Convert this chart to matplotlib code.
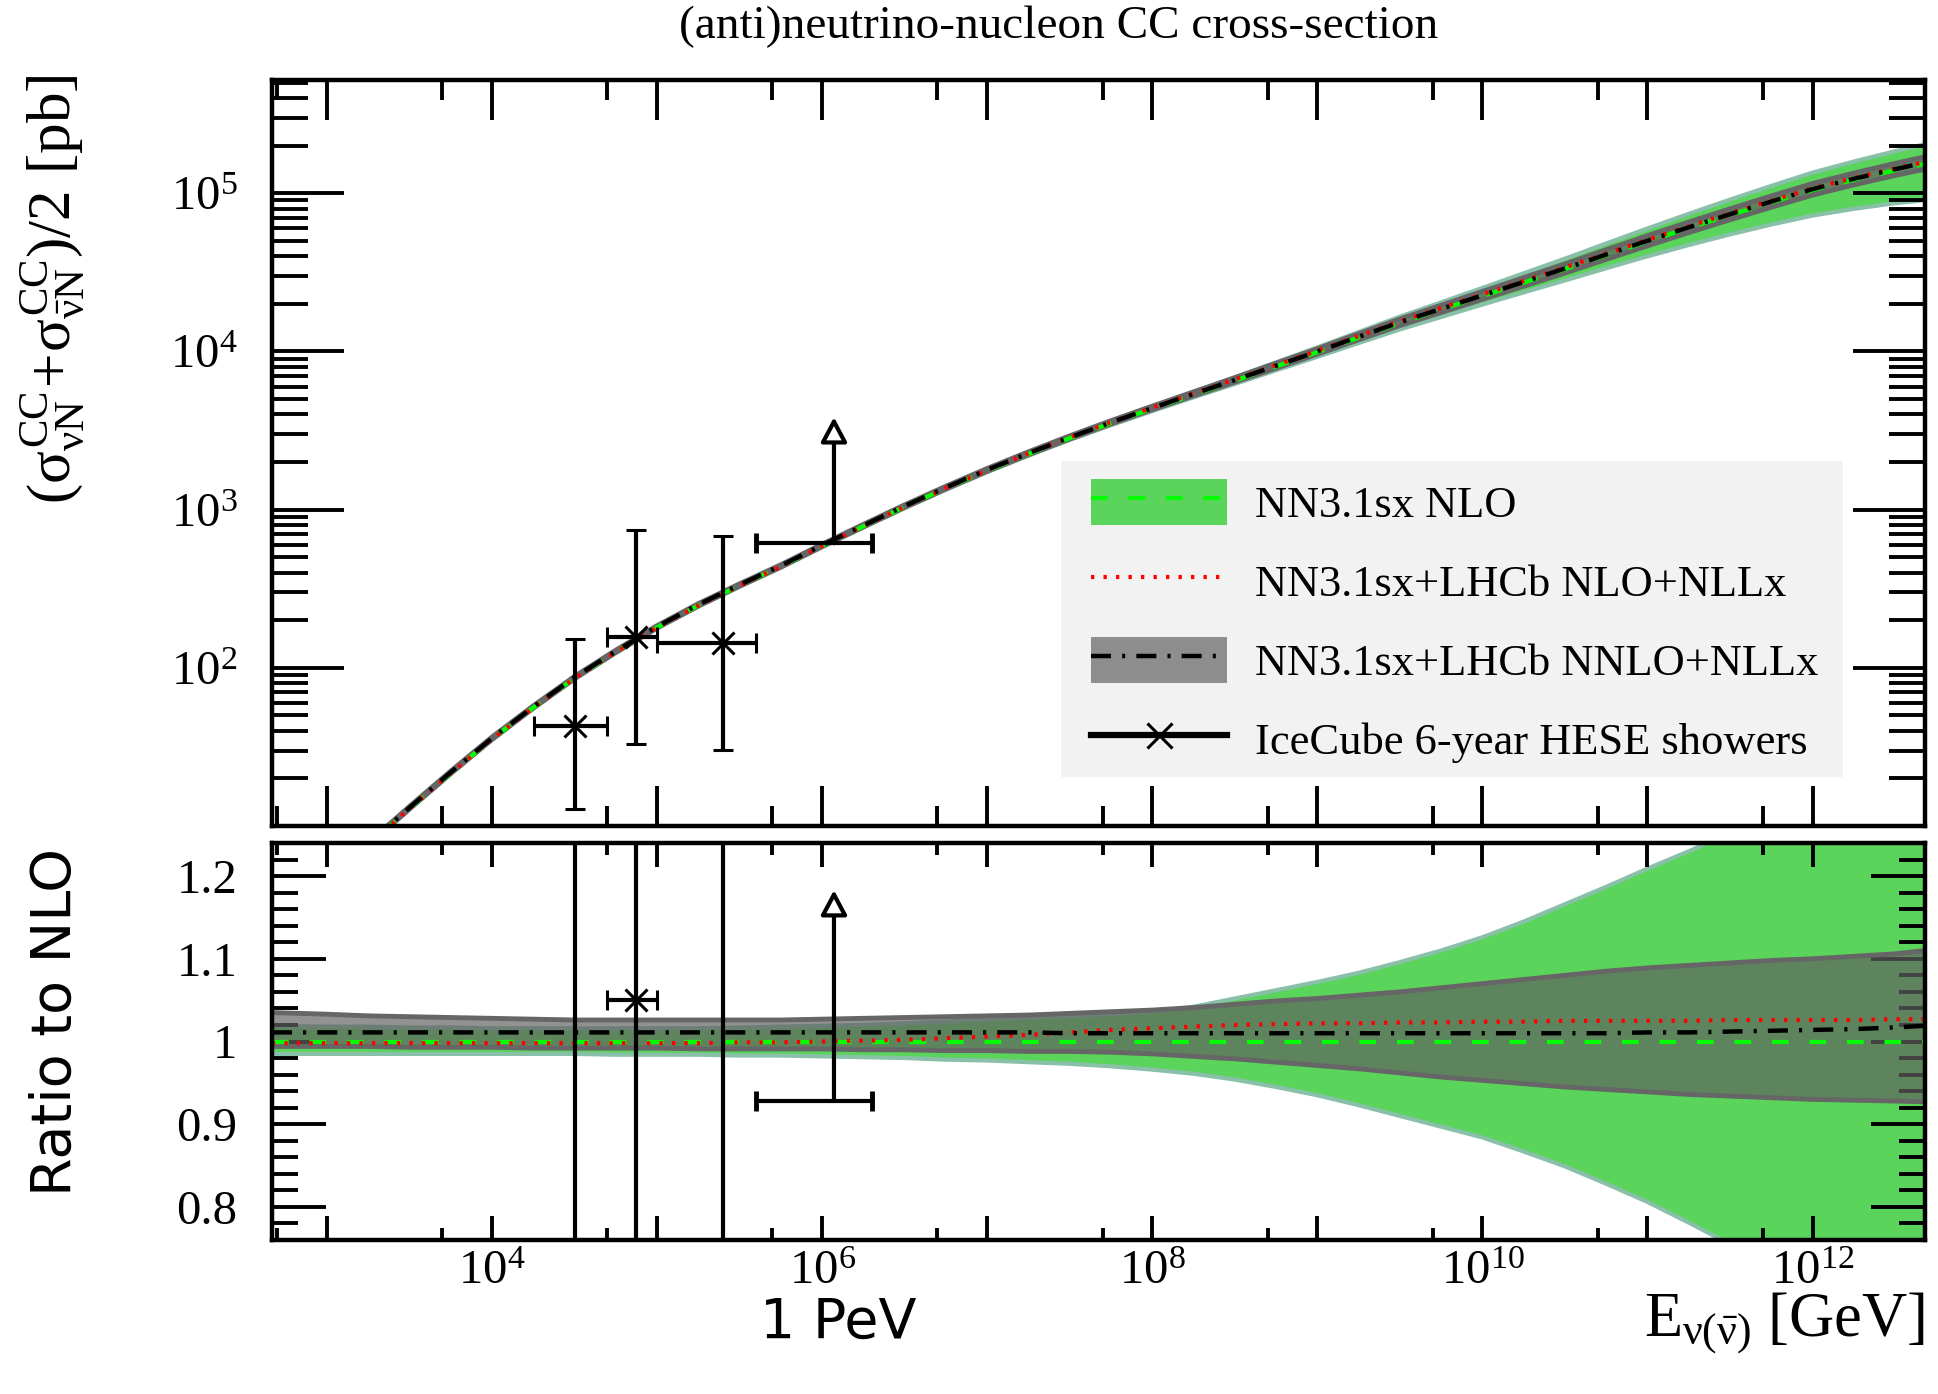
import numpy as np
import matplotlib
matplotlib.use('Agg')
import matplotlib.pyplot as plt
from matplotlib.patches import Patch, Rectangle
from matplotlib.lines import Line2D
from matplotlib.ticker import LogLocator, NullFormatter, FuncFormatter, MultipleLocator

plt.rcParams['font.family'] = ['Liberation Serif', 'DejaVu Serif']
plt.rcParams['mathtext.fontset'] = 'custom'
plt.rcParams['mathtext.rm'] = 'Liberation Serif'
plt.rcParams['mathtext.it'] = 'Liberation Serif'
plt.rcParams['mathtext.bf'] = 'Liberation Serif:bold'

# malla de energia, log10(E / GeV)
log_e = np.array([2.667, 3.0, 3.25, 3.5, 3.75, 4.0, 4.25, 4.5, 4.75, 5.0,
                  5.25, 5.5, 5.75, 6.0, 6.25, 6.5, 6.75, 7.0, 7.25, 7.5,
                  7.75, 8.0, 8.25, 8.5, 8.75, 9.0, 9.25, 9.5, 9.75, 10.0,
                  10.25, 10.5, 10.75, 11.0, 11.25, 11.5, 11.75, 12.0, 12.25, 12.5, 12.68])
energia = 10**log_e

# seccion eficaz NN3.1sx NLO [pb]
sigma_nlo = np.array([2.1, 4.4, 7.6, 12.9, 21.6, 35.5, 56, 86, 126, 180,
                      248, 331, 437, 589, 785, 1042, 1365, 1766, 2249, 2831,
                      3524, 4345, 5333, 6531, 8035, 9886, 12246, 15136, 18408, 22387,
                      27227, 33113, 40551, 49545, 60256, 72778, 87498, 104713, 121619, 139637, 153109])

# bandas y curvas como cociente respecto a NLO
nlo_up = np.array([1.019, 1.018, 1.018, 1.017, 1.017, 1.016, 1.016, 1.016, 1.016, 1.016,
                   1.016, 1.017, 1.018, 1.019, 1.020, 1.022, 1.024, 1.027, 1.029, 1.031,
                   1.033, 1.036, 1.042, 1.052, 1.062, 1.072, 1.083, 1.096, 1.110, 1.126,
                   1.145, 1.166, 1.187, 1.209, 1.230, 1.252, 1.272, 1.290, 1.305, 1.320, 1.335])
nlo_dn = np.array([0.985, 0.985, 0.985, 0.985, 0.985, 0.985, 0.985, 0.985, 0.984, 0.984,
                   0.984, 0.983, 0.983, 0.982, 0.981, 0.980, 0.978, 0.977, 0.975, 0.973,
                   0.970, 0.966, 0.961, 0.954, 0.945, 0.935, 0.923, 0.910, 0.897, 0.884,
                   0.867, 0.849, 0.828, 0.806, 0.781, 0.755, 0.725, 0.690, 0.655, 0.620, 0.590])
nnlo_up = np.array([1.035, 1.033, 1.031, 1.030, 1.029, 1.028, 1.027, 1.026, 1.026, 1.026,
                    1.026, 1.026, 1.026, 1.027, 1.028, 1.029, 1.030, 1.031, 1.032, 1.034,
                    1.036, 1.038, 1.041, 1.045, 1.049, 1.052, 1.056, 1.060, 1.065, 1.070,
                    1.075, 1.080, 1.085, 1.089, 1.092, 1.095, 1.098, 1.100, 1.103, 1.106, 1.110])
nnlo_dn = np.array([0.994, 0.994, 0.994, 0.993, 0.993, 0.993, 0.992, 0.992, 0.992, 0.992,
                    0.991, 0.991, 0.991, 0.991, 0.990, 0.990, 0.989, 0.989, 0.988, 0.988,
                    0.987, 0.985, 0.982, 0.979, 0.975, 0.971, 0.967, 0.962, 0.957, 0.953,
                    0.949, 0.945, 0.942, 0.939, 0.936, 0.934, 0.932, 0.930, 0.929, 0.928, 0.927])
ratio_nll = np.array([0.998, 0.998, 0.998, 0.998, 0.998, 0.998, 0.998, 0.998, 0.998, 0.998,
                      0.998, 0.999, 0.999, 1.000, 1.001, 1.002, 1.004, 1.006, 1.008, 1.011,
                      1.014, 1.016, 1.018, 1.020, 1.021, 1.022, 1.022, 1.023, 1.023, 1.024,
                      1.024, 1.025, 1.025, 1.025, 1.025, 1.026, 1.026, 1.026, 1.026, 1.027, 1.027])
ratio_nnlo = np.array([1.011, 1.011, 1.011, 1.011, 1.011, 1.011, 1.011, 1.011, 1.011, 1.011,
                       1.011, 1.011, 1.011, 1.011, 1.011, 1.011, 1.011, 1.011, 1.011, 1.010,
                       1.010, 1.010, 1.010, 1.010, 1.010, 1.010, 1.010, 1.010, 1.010, 1.010,
                       1.010, 1.010, 1.010, 1.011, 1.011, 1.012, 1.013, 1.014, 1.015, 1.017, 1.019])
ratio_nlo = sigma_nlo / sigma_nlo

# IceCube 6-year HESE showers
E_data = np.array([3.2e4, 7.5e4, 2.5e5])
E_lo = np.array([1.8e4, 5.0e4, 1.0e5])
E_hi = np.array([5.0e4, 1.0e5, 4.0e5])
sig_data = np.array([43, 157, 143])
sig_lo = np.array([12.9, 33.2, 30.3])
sig_hi = np.array([152, 747, 684])
rat_data = np.array([0.51, 1.05, 0.46])
rat_lo = np.array([0.15, 0.22, 0.10])
rat_hi = np.array([1.8, 4.9, 2.2])
# ultimo bin: limite inferior
E_lim, E_lim_lo, E_lim_hi = 1.18e6, 4.0e5, 2.0e6
sig_lim, sig_lim_top = 613, 3840
rat_lim, rat_lim_top = 0.928, 1.183

W, H = 1938, 1394
fig = plt.figure(figsize=(W/100, H/100), dpi=100)
ax1 = fig.add_axes([272/W, 1-826/H, 1653/W, 746/H])
ax2 = fig.add_axes([272/W, 1-1240/H, 1653/W, 397/H])

verde = '#5ad45a'
verde_borde = '#88c0a8'
gris = '#616161'
gris_borde = '#666666'

def dibujar(ax, fac):
    ax.fill_between(energia, fac*nlo_dn, fac*nlo_up, color=verde, lw=0, zorder=1)
    ax.plot(energia, fac*nlo_up, color=verde_borde, lw=3, zorder=1.5)
    ax.plot(energia, fac*nlo_dn, color=verde_borde, lw=3, zorder=1.5)
    ax.fill_between(energia, fac*nnlo_dn, fac*nnlo_up, color=gris, alpha=0.69, lw=0, zorder=2)
    ax.plot(energia, fac*nnlo_up, color=gris_borde, lw=3.5, zorder=2.5)
    ax.plot(energia, fac*nnlo_dn, color=gris_borde, lw=3.5, zorder=2.5)
    ax.plot(energia, fac*ratio_nlo, color='#00ff00', lw=3, dashes=(4, 5), zorder=3)
    ax.plot(energia, fac*ratio_nll, color='#ff0000', lw=3, dashes=(0.8, 2.2), zorder=3.1)
    ax.plot(energia, fac*ratio_nnlo, color='k', lw=3.2, dashes=(4.5, 2.5, 0.7, 2.5), zorder=3.2)

dibujar(ax1, sigma_nlo)
dibujar(ax2, 1.0)

# datos
flecha = dict(arrowstyle='-|>,head_length=0.75,head_width=0.4', mutation_scale=20,
              lw=3, ec='k', fc='white', shrinkA=0, shrinkB=0)
ax1.errorbar(E_data, sig_data, xerr=[E_data-E_lo, E_hi-E_data], yerr=[sig_data-sig_lo, sig_hi-sig_data],
             fmt='x', color='k', ms=16, mew=2.2, elinewidth=3, capsize=7, capthick=3.5, zorder=5)
ax1.errorbar([E_lim], [sig_lim], xerr=[[E_lim-E_lim_lo], [E_lim_hi-E_lim]], fmt='none', color='k',
             elinewidth=3, capsize=7, capthick=3.5, zorder=5)
ax1.annotate('', xy=(E_lim, sig_lim_top), xytext=(E_lim, sig_lim), arrowprops=flecha, zorder=5)
ax2.errorbar(E_data, rat_data, xerr=[E_data-E_lo, E_hi-E_data], yerr=[rat_data-rat_lo, rat_hi-rat_data],
             fmt='x', color='k', ms=16, mew=2.2, elinewidth=3, capsize=7, capthick=3.5, zorder=5)
ax2.errorbar([E_lim], [rat_lim], xerr=[[E_lim-E_lim_lo], [E_lim_hi-E_lim]], fmt='none', color='k',
             elinewidth=3, capsize=7, capthick=3.5, zorder=5)
ax2.annotate('', xy=(E_lim, rat_lim_top), xytext=(E_lim, rat_lim), arrowprops=flecha, zorder=5)

# ejes
for ax in (ax1, ax2):
    ax.set_xscale('log')
    ax.set_xlim(465, 4.8e12)
    for s in ax.spines.values():
        s.set_linewidth(3.2)
        s.set_zorder(10)
    ax.tick_params(axis='both', which='both', direction='in', top=True, right=True, width=2.8)
    ax.xaxis.set_major_locator(LogLocator(base=10, numticks=30))
    ax.xaxis.set_minor_locator(LogLocator(base=10, subs=[5.0], numticks=30))
    ax.xaxis.set_minor_formatter(NullFormatter())

ax1.set_yscale('log')
ax1.set_ylim(10, 5.2e5)
ax1.xaxis.set_major_formatter(NullFormatter())
ax1.yaxis.set_major_locator(LogLocator(base=10, numticks=20))
ax1.yaxis.set_minor_locator(LogLocator(base=10, subs=np.arange(2, 10), numticks=20))
ax1.yaxis.set_minor_formatter(NullFormatter())
ax1.yaxis.set_major_formatter(FuncFormatter(
    lambda v, p: r'$10^{%d}$' % round(np.log10(v)) if 99 < v < 1.01e5 else ''))
ax1.tick_params(axis='x', which='major', length=29)
ax1.tick_params(axis='x', which='minor', length=14.4)
ax1.tick_params(axis='y', which='major', length=52, labelsize=35, pad=25)
ax1.tick_params(axis='y', which='minor', length=26)

ax2.set_ylim(0.76, 1.24)
ax2.yaxis.set_major_locator(MultipleLocator(0.1))
ax2.yaxis.set_minor_locator(MultipleLocator(0.02))
ax2.yaxis.set_major_formatter(FuncFormatter(lambda v, p: '%g' % round(v, 2)))
ax2.xaxis.set_major_formatter(FuncFormatter(
    lambda v, p: r'$10^{%d}$' % round(np.log10(v)) if round(np.log10(v)) % 2 == 0 else ''))
ax2.tick_params(axis='x', which='major', length=17, labelsize=35, pad=7)
ax2.tick_params(axis='x', which='minor', length=8.6)
ax2.tick_params(axis='y', which='major', length=39, labelsize=35, pad=25)
ax2.tick_params(axis='y', which='minor', length=19)

# leyenda
ax1.add_patch(Rectangle((0.4773, 0.0657), 0.473, 0.4236, transform=ax1.transAxes,
                        facecolor='#f2f2f2', edgecolor='none', zorder=6))
h1 = (Patch(facecolor=verde, edgecolor='none'), Line2D([], [], color='#00ff00', lw=3, dashes=(4, 5)))
h2 = Line2D([], [], color='#ff0000', lw=3, dashes=(0.8, 2.2))
h3 = (Patch(facecolor='#8e8e8e', edgecolor='none'), Line2D([], [], color='k', lw=3.2, dashes=(4.5, 2.5, 0.7, 2.5)))
h4 = Line2D([], [], color='k', lw=4.5, marker='x', ms=18, mew=2.2)
leg = ax1.legend([h1, h2, h3, h4],
                 ['NN3.1sx NLO', 'NN3.1sx+LHCb NLO+NLLx', 'NN3.1sx+LHCb NNLO+NLLx',
                  'IceCube 6-year HESE showers'],
                 loc='upper left', bbox_to_anchor=(0.4955, 0.4655), bbox_transform=ax1.transAxes,
                 frameon=False, fontsize=32, borderpad=0, borderaxespad=0,
                 handlelength=3.06, handleheight=1.22, handletextpad=0.63, labelspacing=0.72,
                 numpoints=1)
leg.set_zorder(7)

# textos
fig.text(1059/W, 1-27/H, '(anti)neutrino-nucleon CC cross-section', ha='center', va='center', fontsize=34)
fig.text(52/W, 1-74/H,
         r'$(\sigma^{\rm CC}_{\nu{\rm N}}\!+\!\sigma^{\rm CC}_{\bar{\nu}{\rm N}})/2\ [{\rm pb}]$',
         rotation=90, ha='center', va='top', fontsize=44)
fig.text(56/W, 1-848/H, 'Ratio to NLO', family='DejaVu Sans', rotation=90, ha='center', va='top', fontsize=40)
fig.text(838/W, 1-1323/H, '1 PeV', family='DejaVu Sans', ha='center', va='center', fontsize=40)
fig.text(1925/W, 1-1323/H, r'$E_{\nu(\bar{\nu})}$ [GeV]', ha='right', va='center', fontsize=45)

plt.savefig('out.png', dpi=100)
